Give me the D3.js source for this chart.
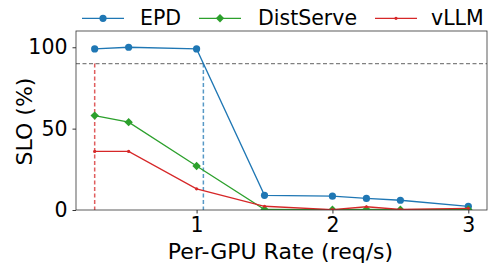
<!DOCTYPE html>
<html>
<head>
<meta charset="utf-8">
<script src="https://cdn.jsdelivr.net/npm/d3@7"></script>
<style>
  body { margin: 0; background: #fff; }
  text { font-family: "DejaVu Sans", sans-serif; fill: #000; }
</style>
</head>
<body>
<div id="chart"></div>
<script>
// data
var rates = [0.25, 0.5, 1.0, 1.5, 2.0, 2.25, 2.5, 3.0];
var epd = [99, 100, 99, 9, 8.5, 7.1, 6, 2.2];
var distserve = [58, 54, 27, 0.3, 0.2, 0.3, 0.2, 0.3];
var vllm = [36, 36, 13, 2.3, 0.2, 2, 0.3, 1];
var xTicks = [1, 2, 3];
var yTicks = [0, 50, 100];
var sloTarget = 90;
var cutoffs = [{ x: 0.25, color: "#d62728" }, { x: 1.05, color: "#1f77b4" }];

var svgWidth = 489, svgHeight = 264;
var margin = { top: 31, right: 2, bottom: 54, left: 76 };
var width = svgWidth - margin.left - margin.right;
var height = svgHeight - margin.top - margin.bottom;

var svg = d3.select("#chart").append("svg")
    .attr("width", svgWidth)
    .attr("height", svgHeight);

// clip marks to the axes box like matplotlib does
svg.append("defs").append("clipPath").attr("id", "plotClip")
    .append("rect").attr("width", width).attr("height", height);

var chartGroup = svg.append("g")
    .attr("transform", `translate(${margin.left}, ${margin.top})`);

var x = d3.scaleLinear().domain([0.1125, 3.1375]).range([0, width]);
var y = d3.scaleLinear().domain([0, 110]).range([height, 0]);

// axes
var xAxis = chartGroup.append("g")
    .attr("transform", `translate(0, ${height})`)
    .call(d3.axisBottom(x).tickValues(xTicks).tickFormat(d3.format("d")).tickSize(3.5).tickPadding(4));
var yAxis = chartGroup.append("g")
    .call(d3.axisLeft(y).tickValues(yTicks).tickSize(3.5).tickPadding(5));
[xAxis, yAxis].forEach(function (a) {
    a.select(".domain").remove();
    a.selectAll("line").attr("stroke", "#000").attr("stroke-width", 0.8);
    a.selectAll("text").attr("font-size", 20.5).style("font-family", "DejaVu Sans").attr("fill", "#000");
});

var plot = chartGroup.append("g").attr("clip-path", "url(#plotClip)");

// SLO target line
plot.append("line")
    .attr("x1", 0).attr("x2", width)
    .attr("y1", y(sloTarget)).attr("y2", y(sloTarget))
    .attr("stroke", "#808080").attr("stroke-width", 1.2)
    .attr("stroke-dasharray", "4,2.5");

// vertical cutoffs
cutoffs.forEach(function (c) {
    plot.append("line")
        .attr("x1", x(c.x)).attr("x2", x(c.x))
        .attr("y1", y(sloTarget)).attr("y2", y(0))
        .attr("stroke", c.color).attr("stroke-width", 1.5)
        .attr("opacity", 0.75)
        .attr("stroke-dasharray", "4,2.5");
});

var series = [
    { name: "EPD", values: epd, color: "#1f77b4", marker: "circle" },
    { name: "DistServe", values: distserve, color: "#2ca02c", marker: "diamond" },
    { name: "vLLM", values: vllm, color: "#d62728", marker: "dot" }
];

function drawMarker(g, s, cx, cy) {
    if (s.marker === "circle") {
        g.append("circle").attr("cx", cx).attr("cy", cy).attr("r", 3.6).attr("fill", s.color);
    } else if (s.marker === "diamond") {
        g.append("path")
            .attr("d", `M${cx},${cy - 4.2}L${cx + 4.2},${cy}L${cx},${cy + 4.2}L${cx - 4.2},${cy}Z`)
            .attr("fill", s.color);
    } else {
        g.append("circle").attr("cx", cx).attr("cy", cy).attr("r", 1.6).attr("fill", s.color);
    }
}

var line = d3.line().x(d => x(d[0])).y(d => y(d[1]));

series.forEach(function (s) {
    var pts = rates.map((r, i) => [r, s.values[i]]);
    plot.append("path")
        .datum(pts)
        .attr("d", line)
        .attr("fill", "none")
        .attr("stroke", s.color)
        .attr("stroke-width", 1.3);
    var mg = plot.append("g");
    pts.forEach(p => drawMarker(mg, s, x(p[0]), y(p[1])));
});

// frame
chartGroup.append("rect")
    .attr("width", width).attr("height", height)
    .attr("fill", "none").attr("stroke", "#333").attr("stroke-width", 0.8);

// axis labels
svg.append("text")
    .attr("x", 280.5)
    .attr("y", 259)
    .attr("text-anchor", "middle")
    .attr("font-size", 22)
    .text("Per-GPU Rate (req/s)");

svg.append("text")
    .attr("transform", `translate(32, 121.5) rotate(-90)`)
    .attr("text-anchor", "middle")
    .attr("font-size", 22)
    .text("SLO (%)");

// legend
var legendX = [82, 199, 375];
var legendTextX = [140, 258, 431];
var legend = svg.append("g");
series.forEach(function (s, i) {
    var lx = legendX[i], ly = 18.3;
    legend.append("line")
        .attr("x1", lx).attr("x2", lx + 42)
        .attr("y1", ly).attr("y2", ly)
        .attr("stroke", s.color).attr("stroke-width", 1.3);
    drawMarker(legend, s, lx + 21, ly);
    legend.append("text")
        .attr("x", legendTextX[i])
        .attr("y", 25)
        .attr("font-size", 20.5)
        .text(s.name);
});
</script>
</body>
</html>
